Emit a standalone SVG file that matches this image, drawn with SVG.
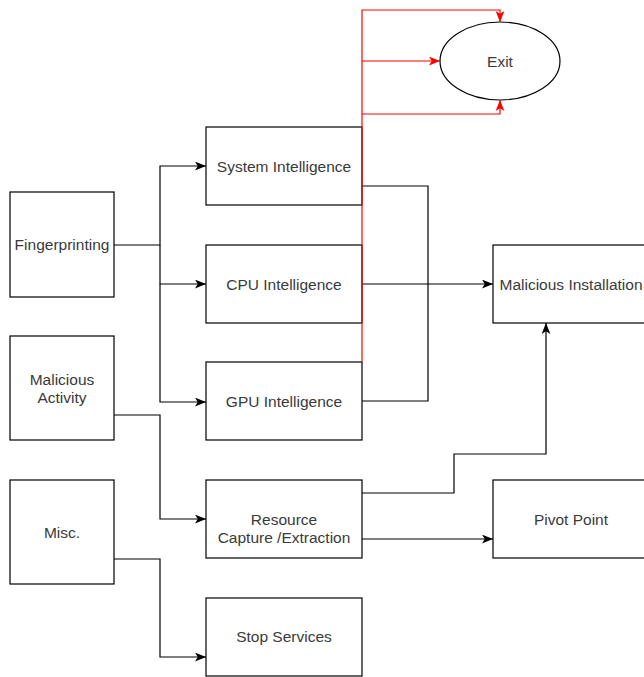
<svg xmlns="http://www.w3.org/2000/svg" width="644" height="677" viewBox="0 0 644 677">
<style>
.box{fill:#fff;stroke:#000;stroke-width:1.2}
.t{font-family:"Liberation Sans",Arial,sans-serif;font-size:15.5px;fill:#3a3a3a;text-anchor:middle;dominant-baseline:central}
.c{fill:none;stroke:#000;stroke-width:1.2}
.r{fill:none;stroke:#f00;stroke-width:1.2}
</style>
<defs>
<marker id="ab" viewBox="0 0 10 8" refX="10" refY="4" markerWidth="11" markerHeight="9" markerUnits="userSpaceOnUse" orient="auto"><path d="M0,0 L10,4 L0,8 L2.5,4 Z" fill="#000"/></marker>
<marker id="ar" viewBox="0 0 10 8" refX="10" refY="4" markerWidth="11" markerHeight="9" markerUnits="userSpaceOnUse" orient="auto"><path d="M0,0 L10,4 L0,8 L2.5,4 Z" fill="#f00"/></marker>
</defs>
<rect width="644" height="677" fill="#fff"/>
<g id="fingerprinting"><rect class="box" x="10" y="192" width="104" height="105"/><text class="t" x="62" y="244">Fingerprinting</text></g>
<g id="malicious-activity"><rect class="box" x="10" y="336" width="104" height="104"/><text class="t" x="62" y="379">Malicious</text><text class="t" x="62" y="397">Activity</text></g>
<g id="misc"><rect class="box" x="10" y="480" width="104" height="104"/><text class="t" x="62" y="532">Misc.</text></g>
<g id="system-intelligence"><rect class="box" x="206" y="127" width="156" height="78"/><text class="t" x="284" y="166">System Intelligence</text></g>
<g id="cpu-intelligence"><rect class="box" x="206" y="245" width="156" height="78"/><text class="t" x="284" y="284">CPU Intelligence</text></g>
<g id="gpu-intelligence"><rect class="box" x="206" y="362" width="156" height="78"/><text class="t" x="284" y="401">GPU Intelligence</text></g>
<g id="resource-capture"><rect class="box" x="206" y="480" width="156" height="78"/><text class="t" x="284" y="519">Resource</text><text class="t" x="284" y="537">Capture /Extraction</text></g>
<g id="stop-services"><rect class="box" x="206" y="598" width="156" height="78"/><text class="t" x="284" y="636">Stop Services</text></g>
<g id="malicious-installation"><rect class="box" x="493" y="245" width="156" height="78"/><text class="t" x="571" y="284">Malicious Installation</text></g>
<g id="pivot-point"><rect class="box" x="493" y="480" width="156" height="78"/><text class="t" x="571" y="519">Pivot Point</text></g>
<g id="exit"><ellipse cx="500" cy="61" rx="60" ry="39" fill="#fff" stroke="#000" stroke-width="1.2"/><text class="t" x="500" y="61">Exit</text></g>
<g id="connectors">
<path class="c" d="M114,245 H160 V166 H206" marker-end="url(#ab)"/>
<path class="c" d="M160,245 V284 H206" marker-end="url(#ab)"/>
<path class="c" d="M160,284 V402 H206" marker-end="url(#ab)"/>
<path class="c" d="M114,415 H160 V519 H206" marker-end="url(#ab)"/>
<path class="c" d="M114,559 H160 V657 H206" marker-end="url(#ab)"/>
<path class="c" d="M362,186 H428 V401 H362"/>
<path class="c" d="M362,284 H493" marker-end="url(#ab)"/>
<path class="c" d="M362,493 H454 V454 H546 V323" marker-end="url(#ab)"/>
<path class="c" d="M362,539 H493" marker-end="url(#ab)"/>
<path class="r" d="M362,362 V10 H500 V22" marker-end="url(#ar)"/>
<path class="r" d="M362,61 H440" marker-end="url(#ar)"/>
<path class="r" d="M362,114 H500 V100" marker-end="url(#ar)"/>
</g>
</svg>
